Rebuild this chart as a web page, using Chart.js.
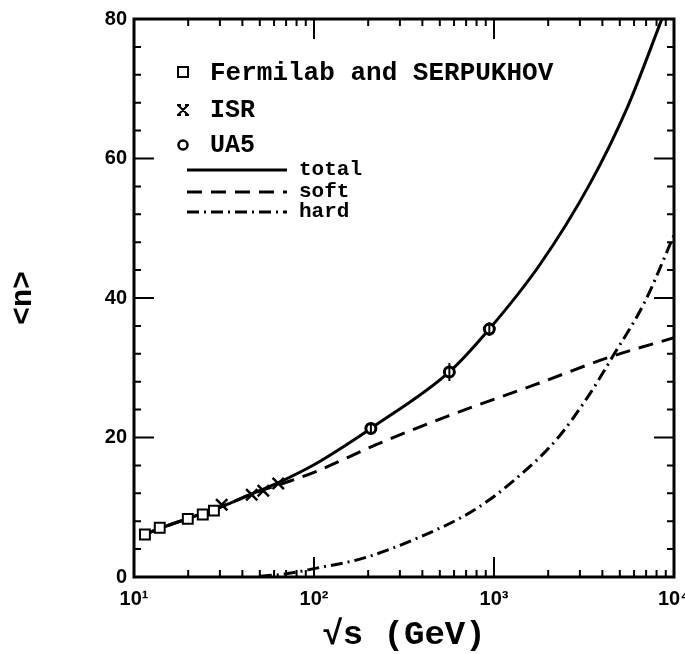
<!DOCTYPE html>
<html>
<head>
<meta charset="utf-8">
<script src="https://cdn.jsdelivr.net/npm/chart.js@4/dist/chart.umd.min.js"></script>
<style>
  html, body { margin: 0; padding: 0; background: #fff; }
  #wrap { width: 685px; height: 654px; }
</style>
</head>
<body>
<div id="wrap"><canvas id="c" width="685" height="654"></canvas></div>
<script>
// Mean charged multiplicity <n> versus centre-of-mass energy sqrt(s)

// Measurements
const fermilabX = [11.5, 13.9, 19.9, 24.1, 27.8];
const fermilabY = [6.1, 7.06, 8.34, 8.95, 9.52];
const isrX = [30.7, 45.1, 52.3, 63.3];
const isrY = [10.37, 11.79, 12.36, 13.4];
const ua5X = [207, 565, 942];
const ua5Y = [21.3, 29.4, 35.55];
const ua5Err = [0.6, 1.3, 1.0];

// Model curves
const totalX = [11.5, 14, 20, 30, 45, 63, 100, 150, 207, 565, 942, 1800, 3415, 5500, 8360, 10000];
const totalY = [6.1, 7.0, 8.4, 10.0, 11.9, 13.5, 16.1, 18.9, 21.3, 29.4, 35.55, 44.8, 56.4, 67.3, 79.3, 84.6];
const softX = [11.5, 14, 20, 30, 45, 67, 100, 223, 545, 1660, 4470, 10000];
const softY = [6.1, 7.0, 8.4, 10.0, 11.9, 13.4, 15.0, 19.0, 23.0, 27.5, 31.6, 34.3];
const hardX = [50, 70, 100, 188, 393, 776, 1297, 2240, 3415, 4560, 6840, 10000];
const hardY = [0.1, 0.45, 1.2, 2.7, 5.8, 9.6, 13.9, 19.8, 26.3, 31.6, 39.3, 49.0];

// Axis labelling
const decadeValues = [10, 100, 1000, 10000];
const decadeLabels = ['10¹', '10²', '10³', '10⁴'];
const yMajorStep = 20;
const yMinorStep = 4;

const pairs = (xs, ys) => xs.map((x, i) => ({ x: x, y: ys[i] }));

const INK = '#000';
const LABEL_FONT = 'Liberation Mono';
const TICK_FONT = 'Liberation Sans';

// Inward ticks on all four sides plus the surrounding frame
const framePlugin = {
  id: 'frame',
  afterDraw(chart) {
    const { ctx, chartArea: a, scales } = chart;
    const xs = scales.x, ys = scales.y;
    const major = 20, minor = 7;
    ctx.save();
    ctx.strokeStyle = INK;
    ctx.lineWidth = 2;
    ctx.beginPath();
    for (let e = 1; e < 4; e++) {
      for (let k = 1; k <= 9; k++) {
        const v = k * Math.pow(10, e);
        const px = xs.getPixelForValue(v);
        const len = k === 1 ? major : minor;
        ctx.moveTo(px, a.bottom); ctx.lineTo(px, a.bottom - len);
        ctx.moveTo(px, a.top); ctx.lineTo(px, a.top + len);
      }
    }
    for (let v = 0; v <= 80; v += yMinorStep) {
      const py = ys.getPixelForValue(v);
      const len = v % yMajorStep === 0 ? major : minor;
      ctx.moveTo(a.left, py); ctx.lineTo(a.left + len, py);
      ctx.moveTo(a.right, py); ctx.lineTo(a.right - len, py);
    }
    ctx.stroke();
    ctx.lineWidth = 3;
    ctx.strokeRect(a.left, a.top, a.right - a.left, a.bottom - a.top);
    ctx.restore();
  }
};

// Vertical error bars on the UA5 points
const errorBarPlugin = {
  id: 'errorBars',
  afterDatasetsDraw(chart) {
    const { ctx, scales } = chart;
    ctx.save();
    ctx.strokeStyle = INK;
    ctx.lineWidth = 2;
    ua5X.forEach((x, i) => {
      const px = scales.x.getPixelForValue(x);
      ctx.beginPath();
      ctx.moveTo(px, scales.y.getPixelForValue(ua5Y[i] - ua5Err[i]));
      ctx.lineTo(px, scales.y.getPixelForValue(ua5Y[i] + ua5Err[i]));
      ctx.stroke();
    });
    ctx.restore();
  }
};

// Key drawn inside the plotting frame
const keyPlugin = {
  id: 'key',
  afterDraw(chart) {
    const ctx = chart.ctx;
    ctx.save();
    ctx.fillStyle = INK;
    ctx.strokeStyle = INK;
    ctx.textBaseline = 'middle';
    ctx.textAlign = 'left';

    // markers
    ctx.lineWidth = 2;
    ctx.fillStyle = '#fff';
    ctx.fillRect(178, 67, 10, 10);
    ctx.strokeRect(178, 67, 10, 10);
    ctx.fillStyle = INK;
    ctx.beginPath();
    ctx.moveTo(178, 105); ctx.lineTo(188, 115);
    ctx.moveTo(188, 105); ctx.lineTo(178, 115);
    ctx.moveTo(177, 105); ctx.lineTo(181, 105);
    ctx.moveTo(185, 105); ctx.lineTo(189, 105);
    ctx.moveTo(177, 115); ctx.lineTo(181, 115);
    ctx.moveTo(185, 115); ctx.lineTo(189, 115);
    ctx.stroke();
    ctx.lineWidth = 2.5;
    ctx.beginPath();
    ctx.arc(183, 145, 4.5, 0, Math.PI * 2);
    ctx.stroke();

    ctx.font = 'bold 26px "' + LABEL_FONT + '"';
    ctx.fillText('Fermilab and SERPUKHOV', 210, 73);
    ctx.font = 'bold 25px "' + LABEL_FONT + '"';
    ctx.fillText('ISR', 210, 111);
    ctx.fillText('UA5', 210, 146);

    // line samples
    const rows = [
      { y: 170, dash: [], text: 'total' },
      { y: 192, dash: [15, 9], text: 'soft' },
      { y: 212, dash: [12, 5, 2, 5], text: 'hard' }
    ];
    ctx.lineWidth = 3;
    rows.forEach(r => {
      ctx.setLineDash(r.dash);
      ctx.beginPath();
      ctx.moveTo(187, r.y); ctx.lineTo(287, r.y);
      ctx.stroke();
    });
    ctx.setLineDash([]);
    ctx.font = 'bold 21px "' + LABEL_FONT + '"';
    rows.forEach(r => ctx.fillText(r.text, 299, r.y));
    ctx.restore();
  }
};

const curve = (data, dash) => ({
  type: 'line',
  data: data,
  showLine: true,
  borderColor: INK,
  borderWidth: 3,
  borderDash: dash,
  pointRadius: 0,
  cubicInterpolationMode: 'monotone',
  fill: false,
  order: 2
});

new Chart(document.getElementById('c'), {
  type: 'scatter',
  data: {
    datasets: [
      Object.assign(curve(pairs(totalX, totalY), []), { label: 'total', order: 2 }),
      Object.assign(curve(pairs(softX, softY), [15, 9]), { label: 'soft', order: 3 }),
      Object.assign(curve(pairs(hardX, hardY), [12, 5, 2, 5]), { label: 'hard', order: 3 }),
      {
        label: 'Fermilab and SERPUKHOV',
        data: pairs(fermilabX, fermilabY),
        pointStyle: 'rect', pointRadius: 7, borderWidth: 2,
        borderColor: INK, backgroundColor: '#fff', order: 1
      },
      {
        label: 'ISR',
        data: pairs(isrX, isrY),
        pointStyle: 'crossRot', pointRadius: 8, borderWidth: 2.5,
        borderColor: INK, backgroundColor: INK, order: 1
      },
      {
        label: 'UA5',
        data: pairs(ua5X, ua5Y),
        pointStyle: 'circle', pointRadius: 5, borderWidth: 3,
        borderColor: INK, backgroundColor: '#fff', order: 1
      }
    ]
  },
  options: {
    responsive: false,
    animation: false,
    events: [],
    layout: { padding: { top: 14, right: 11, left: 0, bottom: 0 } },
    plugins: { legend: { display: false }, tooltip: { enabled: false } },
    scales: {
      x: {
        type: 'logarithmic',
        min: 10, max: 10000,
        grid: { display: false, drawTicks: false },
        border: { display: false },
        afterBuildTicks: s => { s.ticks = decadeValues.map(v => ({ value: v, major: true })); },
        ticks: {
          autoSkip: false, maxRotation: 0, minRotation: 0, padding: 10,
          color: INK,
          font: { family: TICK_FONT, weight: 'bold', size: 20 },
          callback: v => { const i = decadeValues.indexOf(v); return i >= 0 ? decadeLabels[i] : ''; }
        },
        title: {
          display: true, text: '√s (GeV)', color: INK,
          font: { family: LABEL_FONT, weight: 'bold', size: 34, lineHeight: 1.1 },
          padding: { top: 0, bottom: 0 }
        },
        afterFit: s => { s.height = 77; s.paddingLeft = 0; s.paddingRight = 0; }
      },
      y: {
        min: 0, max: 80,
        grid: { display: false, drawTicks: false },
        border: { display: false },
        ticks: {
          stepSize: yMajorStep, padding: 7, color: INK,
          font: { family: TICK_FONT, weight: 'bold', size: 20 }
        },
        title: {
          display: true, text: '<n>', color: INK,
          font: { family: LABEL_FONT, weight: 'bold', size: 30, lineHeight: 1.2 },
          padding: { top: 5, bottom: 0 }
        },
        afterFit: s => { s.width = 134; }
      }
    }
  },
  plugins: [framePlugin, errorBarPlugin, keyPlugin]
});
</script>
</body>
</html>
